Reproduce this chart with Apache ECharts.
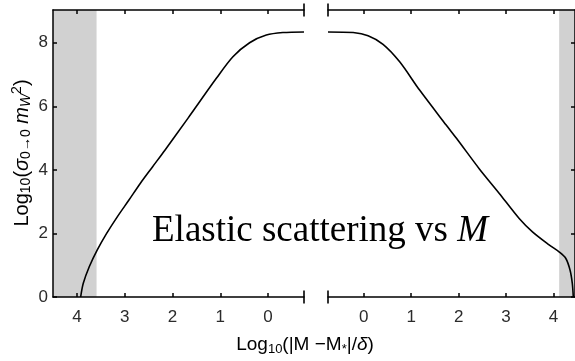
<!DOCTYPE html>
<html><head><meta charset="utf-8">
<script src="https://cdn.jsdelivr.net/npm/echarts@6/dist/echarts.min.js"></script>
<style>html,body{margin:0;padding:0;background:#fff}#c{width:575px;height:361px}</style>
</head><body><div id="c"></div>
<script>
// ---- data ----
const xTicks = [0, 1, 2, 3, 4];
const yTicks = [0, 2, 4, 6, 8];
const leftRange = [-0.753, 4.502];
const rightRange = [-0.756, 4.454];
const yRange = [0, 9.03];
const leftBand = [3.59, 4.502];
const rightBand = [4.12, 4.454];
const leftCurveX = [3.923, 3.868, 3.743, 3.575, 3.379, 3.153, 2.912, 2.672, 2.416, 2.159, 1.678, 1.082, 0.735, 0.386, 0.036, -0.311, -0.753];
const leftCurveY = [0.00, 0.43, 0.95, 1.48, 2.00, 2.53, 3.05, 3.58, 4.10, 4.62, 5.62, 6.88, 7.56, 8.00, 8.24, 8.32, 8.34];
const rightCurveX = [-0.756, -0.225, 0.090, 0.405, 0.756, 1.176, 1.737, 1.981, 2.437, 2.857, 3.277, 3.557, 3.908, 4.118, 4.258, 4.349, 4.397, 4.418];
const rightCurveY = [8.34, 8.32, 8.22, 7.95, 7.40, 6.51, 5.41, 4.94, 4.03, 3.26, 2.47, 2.05, 1.64, 1.42, 1.22, 0.85, 0.43, 0.00];
const annotation = 'Elastic scattering vs ';
const annotationVar = 'M';

// ---- styling ----
const FONT = '"Liberation Sans", Arial, sans-serif';
const SERIF = '"Liberation Serif", "Times New Roman", serif';
const TXT = '#2b2b2b';
const AX = '#000';

function pairs(xs, ys) { return xs.map((x, i) => [x, ys[i]]); }

function xAxis(grid, pos, inverse, range, labels) {
  return {
    type: 'value', gridIndex: grid, position: pos, inverse: inverse,
    min: range[0], max: range[1], z: 5,
    axisLine: { show: true, onZero: false, lineStyle: { color: AX, width: 1.5 } },
    axisTick: { show: true, inside: true, length: 4, customValues: xTicks,
      lineStyle: { color: AX, width: 1.5 } },
    axisLabel: { show: labels, customValues: xTicks, margin: 12, fontSize: 17,
      color: TXT, fontFamily: FONT },
    splitLine: { show: false }
  };
}
function yAxis(grid, pos, labels) {
  return {
    type: 'value', gridIndex: grid, position: pos, min: yRange[0], max: yRange[1], z: 5,
    axisLine: { show: true, onZero: false, lineStyle: { color: AX, width: 1.5 } },
    axisTick: { show: true, inside: true, length: 4, customValues: yTicks,
      lineStyle: { color: AX, width: 1.5 } },
    axisLabel: { show: labels, customValues: yTicks, margin: 5, fontSize: 17,
      color: TXT, fontFamily: FONT },
    splitLine: { show: false }
  };
}
function rich(main, sub) {
  return {
    a: { fontSize: main, fontFamily: FONT, color: TXT, lineHeight: main + 3 },
    i: { fontSize: main, fontFamily: FONT, color: TXT, lineHeight: main + 3, fontStyle: 'italic' },
    s: { fontSize: sub, fontFamily: FONT, color: TXT, lineHeight: 8, verticalAlign: 'bottom' },
    si: { fontSize: sub, fontFamily: FONT, color: TXT, lineHeight: 8, verticalAlign: 'bottom', fontStyle: 'italic' },
    p: { fontSize: sub, fontFamily: FONT, color: TXT, lineHeight: 8, verticalAlign: 'top' }
  };
}

const chart = echarts.init(document.getElementById('c'), null, { renderer: 'canvas' });
chart.setOption({
  animation: false,
  backgroundColor: '#fff',
  grid: [
    { left: 53, top: 10, width: 251, height: 287 },
    { left: 328, top: 10, width: 248, height: 287 }
  ],
  xAxis: [
    xAxis(0, 'bottom', true, leftRange, true),
    xAxis(0, 'top', true, leftRange, false),
    xAxis(1, 'bottom', false, rightRange, true),
    xAxis(1, 'top', false, rightRange, false)
  ],
  yAxis: [
    yAxis(0, 'left', true),
    yAxis(1, 'right', false)
  ],
  series: [
    { type: 'line', xAxisIndex: 0, yAxisIndex: 0, data: pairs(leftCurveX, leftCurveY),
      showSymbol: false, smooth: 0.3, lineStyle: { color: '#000', width: 1.6 },
      markArea: { silent: true, itemStyle: { color: '#d1d1d1' },
        data: [[{ xAxis: leftBand[0] }, { xAxis: leftBand[1] }]] } },
    { type: 'line', xAxisIndex: 2, yAxisIndex: 1, data: pairs(rightCurveX, rightCurveY),
      showSymbol: false, smooth: 0.3, lineStyle: { color: '#000', width: 1.6 },
      markArea: { silent: true, itemStyle: { color: '#d1d1d1' },
        data: [[{ xAxis: rightBand[0] }, { xAxis: rightBand[1] }]] } }
  ]
});

// axis-break markers at the inner ends of both panels
const breaks = [];
[[0, leftRange[0]], [1, rightRange[0]]].forEach(([g, xv]) => {
  [yRange[0], yRange[1]].forEach(yv => {
    const p = chart.convertToPixel({ gridIndex: g }, [xv, yv]);
    breaks.push({ type: 'line', z: 20,
      shape: { x1: p[0], y1: p[1] - 6.5, x2: p[0], y2: p[1] + 6.5 },
      style: { stroke: AX, lineWidth: 1.6 } });
  });
});

chart.setOption({
  graphic: breaks.concat([
    { type: 'text', x: 152, y: 231, z: 10,
      style: { text: '{a|' + annotation + '}{b|' + annotationVar + '}',
        verticalAlign: 'middle', align: 'left',
        rich: { a: { fontSize: 37, fontFamily: SERIF, color: '#000' },
                b: { fontSize: 37, fontFamily: SERIF, color: '#000', fontStyle: 'italic' } } } },
    { type: 'text', x: 22, y: 153, rotation: Math.PI / 2, z: 10,
      style: { text: '{a|Log}{s|10}{a|(}{i|σ}{s|0→0}{a| }{i|m}{si|W}{p|2}{a|)}',
        align: 'center', verticalAlign: 'middle', rich: rich(20, 14) } },
    { type: 'text', x: 305, y: 345, z: 10,
      style: { text: '{a|Log}{s|10}{a|(|M −M}{s|*}{a||/}{i|δ}{a|)}',
        align: 'center', verticalAlign: 'middle', rich: rich(19, 13) } }
  ])
});
</script></body></html>
